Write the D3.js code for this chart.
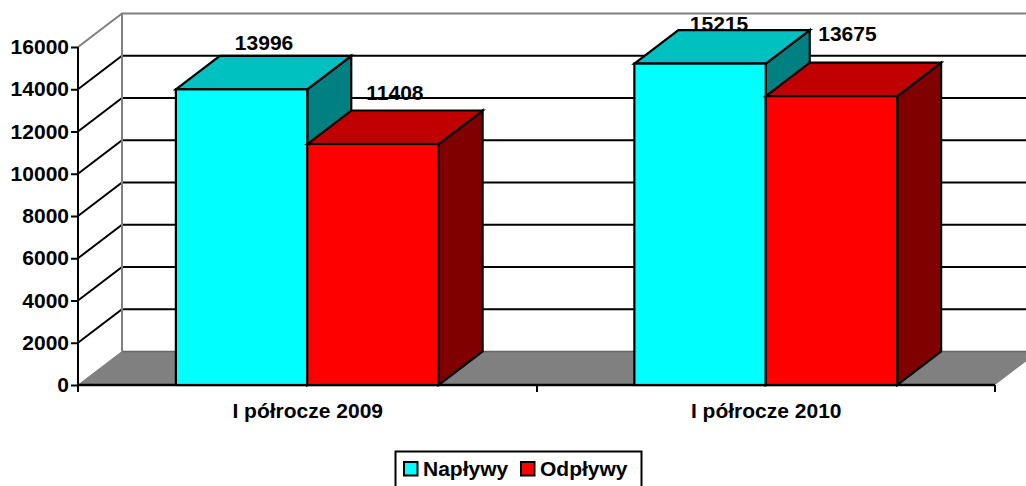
<!DOCTYPE html>
<html><head><meta charset="utf-8">
<script src="https://cdn.jsdelivr.net/npm/d3@7/dist/d3.min.js"></script>
<style>html,body{margin:0;padding:0;background:#fff;overflow:hidden}svg{display:block}
text{font-family:"Liberation Sans",Arial,sans-serif;font-weight:bold;fill:#000}</style>
</head><body><svg id="c" width="1026" height="486"></svg>
<script>
const categories = ["I półrocze 2009", "I półrocze 2010"];
const seriesNames = ["Napływy", "Odpływy"];
const inflow = [13996, 15215];
const outflow = [11408, 13675];
const yTicks = [0, 2000, 4000, 6000, 8000, 10000, 12000, 14000, 16000];
const frontColors = ["#00ffff", "#ff0000"];
const topColors = ["#00c0c0", "#c00000"];
const sideColors = ["#008080", "#800000"];

const dx = 44, dy = -33.5, fs = 21;
const labelOffsets = [[[22.5,-39],[19,-33]],[[22,-44],[16,-55]]];
const svg = d3.select("#c");
const y = d3.scaleLinear().domain([0, 16000]).range([385, 47]);
const x0 = d3.scaleBand().domain(categories).range([78, 995]);
const x1 = d3.scaleBand().domain(seriesNames).range([0, x0.bandwidth()]).paddingInner(0).paddingOuter(0.745);
const line = d3.line();
const W = 1040;

// floor
svg.append("path").attr("d", line([[78,y(0)],[78+dx,y(0)+dy],[995+dx,y(0)+dy],[995,y(0)]])+"Z").attr("fill","#808080");
svg.append("path").attr("d", line([[78+dx,y(0)+dy],[W,y(0)+dy]])).attr("stroke","#666").attr("stroke-width",1.5).attr("fill","none");
// back wall + side wall gridlines
yTicks.forEach(t=>{
  if(t===0) return;
  const c = t===16000 ? "#808080" : "#000";
  svg.append("path").attr("d", line([[78,y(t)],[78+dx,y(t)+dy],[W,y(t)+dy]])).attr("fill","none").attr("stroke",c).attr("stroke-width",2);
});
svg.append("path").attr("d", line([[78+dx,y(0)+dy],[78+dx,y(16000)+dy]])).attr("stroke","#808080").attr("stroke-width",2);
svg.append("path").attr("d", line([[78,y(0)],[78+dx,y(0)+dy]])).attr("stroke","#808080").attr("stroke-width",1);

// value axis
const ya = svg.append("g").attr("transform","translate(78,0)").call(d3.axisLeft(y).tickValues(yTicks).tickFormat(d3.format("d")).tickSize(7).tickPadding(2));
ya.select(".domain").attr("stroke","#000").attr("stroke-width",2).attr("d","M0,"+y(0)+"V"+y(16000));
ya.selectAll("line").attr("stroke","#000").attr("stroke-width",2);
ya.selectAll("text").attr("font-size",fs);
ya.attr("font-family",null).attr("font-size",null);

// category axis
const xa = svg.append("g").attr("transform","translate(0,"+y(0)+")");
xa.append("path").attr("d",line([[78,0],[995,0]])).attr("stroke","#000").attr("stroke-width",2.5);
[78,537,995].forEach(v=>xa.append("path").attr("d",line([[v,0],[v,7]])).attr("stroke","#000").attr("stroke-width",2));
categories.forEach(c=>xa.append("text").attr("x",x0(c)+x0.bandwidth()/2+0.5).attr("y",32.5).attr("text-anchor","middle").attr("font-size",fs).text(c));

const series = [inflow, outflow];
// value labels (behind the bars)
categories.forEach((c,i)=>series.forEach((vals,s)=>{
  const xl = x0(c)+x1(seriesNames[s]), w = x1.bandwidth(), yt = y(vals[i]);
  const o = labelOffsets[s][i];
  svg.append("text").attr("x",xl+w/2+o[0]).attr("y",yt+o[1]).attr("text-anchor","middle").attr("font-size",fs).text(vals[i]);
}));
// bars
categories.forEach((c,i)=>series.forEach((vals,s)=>{
  const xl = x0(c)+x1(seriesNames[s]), w = x1.bandwidth(), yt = y(vals[i]), yb = y(0);
  const g = svg.append("g").attr("stroke","#000").attr("stroke-width",2.2).attr("stroke-linejoin","miter");
  g.append("path").attr("d",line([[xl+w,yt],[xl+w+dx,yt+dy],[xl+w+dx,yb+dy],[xl+w,yb]])+"Z").attr("fill",sideColors[s]);
  g.append("path").attr("d",line([[xl,yt],[xl+dx,yt+dy],[xl+w+dx,yt+dy],[xl+w,yt]])+"Z").attr("fill",topColors[s]);
  g.append("rect").attr("x",xl).attr("y",yt).attr("width",w).attr("height",yb-yt).attr("fill",frontColors[s]);
}));
// legend (its lower edge runs past the bottom of the picture)
const lg = svg.append("g");
lg.append("rect").attr("x",395.5).attr("y",451.5).attr("width",246).attr("height",44).attr("fill","#fff").attr("stroke","#000").attr("stroke-width",2);
seriesNames.forEach((n,i)=>{
  const lx=[404,521][i];
  lg.append("rect").attr("x",lx).attr("y",462).attr("width",13.5).attr("height",13.5).attr("fill",frontColors[i]).attr("stroke","#000").attr("stroke-width",2);
  lg.append("text").attr("x",lx+19).attr("y",476).attr("font-size",fs).text(n);
});
</script></body></html>
